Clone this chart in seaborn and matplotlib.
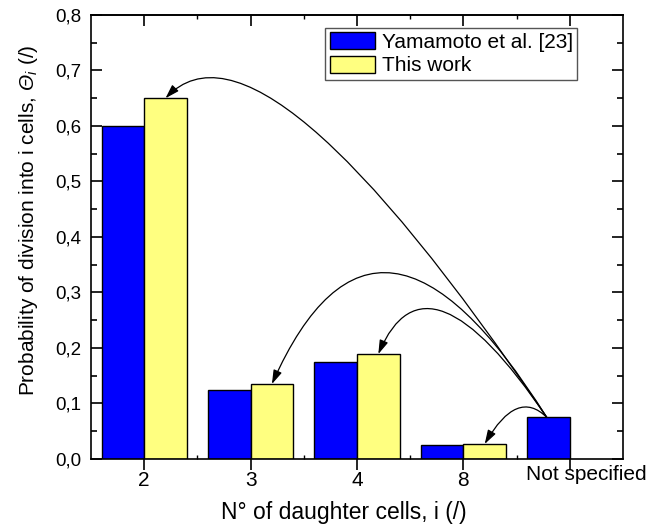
import matplotlib
matplotlib.use('Agg')
import matplotlib.pyplot as plt
import matplotlib.transforms as mtransforms
from matplotlib.ticker import MultipleLocator, FuncFormatter, FixedLocator
import seaborn as sns
import pandas as pd
import numpy as np

# --- data ---
categories = ['2', '3', '4', '8', 'Not specified']
yamamoto = [0.600, 0.125, 0.175, 0.025, 0.075]
this_work = [0.650, 0.135, 0.189, 0.027, np.nan]
series_names = ['Yamamoto et al. [23]', 'This work']

# arrows from the "Not specified" bar to the "This work" bars
# (target category, start angle, end angle of the curve in degrees)
arrow_targets = ['2', '3', '4', '8']
arrow_angle_a = [124, 122, 124, 135]
arrow_angle_b = [46, 66, 67, 60]

df = pd.DataFrame({
    'cells': categories * 2,
    'prob': yamamoto + this_work,
    'source': [series_names[0]] * len(categories) + [series_names[1]] * len(categories),
}).dropna()

sns.set_theme(style='ticks')
plt.rcParams['font.family'] = ['Liberation Sans', 'DejaVu Sans']
for key in ['text.color', 'axes.labelcolor', 'xtick.color', 'ytick.color', 'axes.edgecolor']:
    plt.rcParams[key] = 'black'
# only the y label uses mathtext: make Theta and i italic
plt.rcParams['mathtext.fontset'] = 'custom'
plt.rcParams['mathtext.it'] = 'Liberation Sans:italic'
plt.rcParams['mathtext.rm'] = 'Liberation Sans:italic'

BLUE = '#0000FF'
YELLOW = '#FFFF80'

fig = plt.figure(figsize=(6.6, 5.26), dpi=100)
ax = fig.add_axes([0.1379, 0.1274, 0.8061, 0.8441])

sns.barplot(data=df, x='cells', y='prob', hue='source', order=categories,
            hue_order=series_names, palette=[BLUE, YELLOW], saturation=1,
            edgecolor='black', linewidth=1.0, width=0.8, ax=ax)

ax.set_xlim(-0.5, 4.5)
ax.set_ylim(0, 0.8)

# axes styling
for sp in ax.spines.values():
    sp.set_visible(True)
    sp.set_linewidth(1.2)
    sp.set_color('black')

ax.yaxis.set_major_locator(MultipleLocator(0.1))
ax.yaxis.set_minor_locator(MultipleLocator(0.05))
ax.yaxis.set_major_formatter(FuncFormatter(lambda v, p: f'{v:.1f}'.replace('.', ',')))
ax.tick_params(axis='y', which='both', direction='in', left=True, right=True, width=1.2)
ax.tick_params(axis='y', which='major', length=8, labelsize=13.5, pad=7)
ax.tick_params(axis='y', which='minor', length=4)

ax.xaxis.set_minor_locator(FixedLocator(np.arange(0.5, 4, 1.0)))
ax.tick_params(axis='x', which='major', direction='out', length=8, width=1.2, labelsize=15, pad=1)
ax.tick_params(axis='x', which='minor', direction='in', length=3, width=1.0)

top = ax.secondary_xaxis('top')
top.set_xticks(range(len(categories)))
top.xaxis.set_minor_locator(FixedLocator(np.arange(0.5, 4, 1.0)))
top.tick_params(axis='x', which='major', direction='in', length=8, width=1.2, labeltop=False)
top.tick_params(axis='x', which='minor', direction='in', length=3, width=1.0)
top.spines['top'].set_linewidth(1.2)

# shift the last tick label a bit, as in the reference
lbl = ax.get_xticklabels()[-1]
lbl.set_transform(lbl.get_transform() + mtransforms.ScaledTranslation(16 / 100, 6 / 100, fig.dpi_scale_trans))

ax.set_xlabel('N° of daughter cells, i (/)', fontsize=16.5)
ax.set_ylabel(r'Probability of division into i cells, $\Theta_i$ (/)', fontsize=15)
ax.xaxis.set_label_coords(0.4746, -0.095)
ax.yaxis.set_label_coords(-0.096, 0.538)

# curved arrows
start = (len(categories) - 1 - 0.217, yamamoto[-1])
for tgt, a, b in zip(arrow_targets, arrow_angle_a, arrow_angle_b):
    i = categories.index(tgt)
    ax.annotate('', xy=(i + 0.2, this_work[i]), xytext=start,
                arrowprops=dict(arrowstyle='-|>,head_length=0.7,head_width=0.22',
                                connectionstyle=f'angle3,angleA={a},angleB={b}',
                                color='black', lw=0.9, shrinkA=0, shrinkB=0))

handles, labels = ax.get_legend_handles_labels()
leg = ax.legend(handles, labels, loc='upper right', bbox_to_anchor=(0.9135, 0.9707),
                fontsize=15, frameon=True, fancybox=False, edgecolor='#555555',
                framealpha=1, borderpad=0.2, labelspacing=0.19, handlelength=2.2,
                handleheight=0.87, handletextpad=0.3, borderaxespad=0)
leg.get_frame().set_linewidth(1.0)

fig.savefig('out.png', dpi=100)
